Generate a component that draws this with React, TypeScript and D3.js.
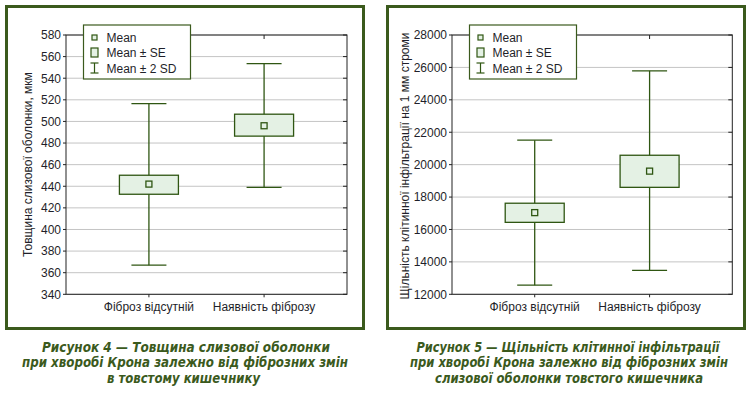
import React from 'react';
import * as d3 from 'd3';

// Категорії (спільні для обох рисунків)
const categories = ['Фіброз відсутній', 'Наявність фіброзу'];

// Рисунок 4 — товщина слизової оболонки, мкм
const thicknessMean = [442, 496];
const thicknessSeLow = [432.6, 486.4];
const thicknessSeHigh = [450.2, 506.7];
const thicknessSdLow = [367, 439];
const thicknessSdHigh = [516.5, 553.5];
const thicknessTicks = [340, 360, 380, 400, 420, 440, 460, 480, 500, 520, 540, 560, 580];

// Рисунок 5 — щільність клітинної інфільтрації
const densityMean = [17040, 19600];
const densitySeLow = [16440, 18600];
const densitySeHigh = [17620, 20580];
const densitySdLow = [12560, 13480];
const densitySdHigh = [21510, 25790];
const densityTicks = [12000, 14000, 16000, 18000, 20000, 22000, 24000, 26000, 28000];

const legendLabels = ['Mean', 'Mean ± SE', 'Mean ± 2 SD'];

const GREEN = '#3b5a1d';
const BOX_STROKE = '#2f5612';
const BOX_FILL = '#e4f1e4';
const TEXT = '#1f1f2a';
const GRID = '#c4c4c4';
const FONT = '"Liberation Sans", Arial, sans-serif';
const CAPTION_FONT = '"Liberation Sans Narrow", "DejaVu Sans Condensed", "Liberation Sans", sans-serif';

interface PanelProps {
  left: number;
  plotLeft: number;
  plotRight: number;
  ticks: number[];
  mean: number[];
  seLow: number[];
  seHigh: number[];
  sdLow: number[];
  sdHigh: number[];
  yTitle: string;
  titleX: number;
  titleY: number;
  caption: { text: string; x: number; width: number }[];
}

const Panel: React.FC<PanelProps> = (p) => {
  const top = 35;
  const bottom = 294.3;

  const x = d3.scalePoint<string>()
    .domain(categories)
    .range([p.plotLeft, p.plotRight])
    .padding(0.72);

  const y = d3.scaleLinear()
    .domain([p.ticks[0], p.ticks[p.ticks.length - 1]])
    .range([bottom, top]);

  const boxW = 59;
  const capW = 35;
  const legX = p.plotLeft + 17.5;
  const legY = 25;

  return (
    <g>
      {/* рамка */}
      <rect x={p.left + 1.5} y={6.5} width={357} height={322}
        fill="none" stroke={GREEN} strokeWidth={3} />

      {/* сітка */}
      {p.ticks.map(t => (
        <line key={'g' + t} x1={p.plotLeft} x2={p.plotRight} y1={y(t)} y2={y(t)}
          stroke={GRID} strokeWidth={1} />
      ))}

      {/* вісь Y: мітки зліва назовні, справа всередину */}
      {p.ticks.map(t => (
        <g key={'t' + t}>
          <line x1={p.plotLeft - 3} x2={p.plotLeft} y1={y(t)} y2={y(t)} stroke="#222" />
          <line x1={p.plotRight - 4} x2={p.plotRight} y1={y(t)} y2={y(t)} stroke="#222" />
          <text x={p.plotLeft - 5} y={y(t)} dy="0.36em" textAnchor="end"
            fontSize={12} fill={TEXT} fontFamily={FONT}>{t}</text>
        </g>
      ))}

      {/* категорії */}
      {categories.map(c => (
        <g key={'c' + c}>
          <line x1={x(c)} x2={x(c)} y1={bottom} y2={bottom + 3} stroke="#222" />
          <line x1={x(c)} x2={x(c)} y1={top} y2={top + 4} stroke="#222" />
          <text x={x(c)} y={bottom + 16.5} textAnchor="middle" fontSize={12}
            fill={TEXT} fontFamily={FONT}>{c}</text>
        </g>
      ))}

      <rect x={p.plotLeft} y={top} width={p.plotRight - p.plotLeft} height={bottom - top}
        fill="none" stroke="#222" strokeWidth={1} />

      {/* боксплоти */}
      {categories.map((c, i) => {
        const cx = x(c) as number;
        return (
          <g key={'b' + c} stroke={BOX_STROKE} strokeWidth={1.3}>
            <line x1={cx} x2={cx} y1={y(p.sdHigh[i])} y2={y(p.sdLow[i])} />
            <line x1={cx - capW / 2} x2={cx + capW / 2} y1={y(p.sdHigh[i])} y2={y(p.sdHigh[i])} />
            <line x1={cx - capW / 2} x2={cx + capW / 2} y1={y(p.sdLow[i])} y2={y(p.sdLow[i])} />
            <rect x={cx - boxW / 2} y={y(p.seHigh[i])} width={boxW}
              height={y(p.seLow[i]) - y(p.seHigh[i])} fill={BOX_FILL} />
            <rect x={cx - 3} y={y(p.mean[i]) - 3} width={6} height={6} fill={BOX_FILL} />
          </g>
        );
      })}

      {/* легенда */}
      <rect x={legX} y={legY} width={107} height={54} fill="#fff" stroke={GREEN} strokeWidth={1.2} />
      <rect x={legX + 8.5} y={legY + 10} width={5} height={5} fill={BOX_FILL} stroke={BOX_STROKE} strokeWidth={1.2} />
      <rect x={legX + 7.5} y={legY + 23} width={7} height={9} fill={BOX_FILL} stroke={BOX_STROKE} strokeWidth={1.2} />
      <g stroke={BOX_STROKE} strokeWidth={1.2}>
        <line x1={legX + 11} x2={legX + 11} y1={legY + 38} y2={legY + 48} />
        <line x1={legX + 7} x2={legX + 15} y1={legY + 38} y2={legY + 38} />
        <line x1={legX + 7} x2={legX + 15} y1={legY + 48} y2={legY + 48} />
      </g>
      {legendLabels.map((l, i) => (
        <text key={l} x={legX + 23} y={legY + 12.5 + i * 15.5} dy="0.36em"
          fontSize={12} fill={TEXT} fontFamily={FONT}>{l}</text>
      ))}

      {/* назва осі Y */}
      <text transform={`translate(${p.titleX},${p.titleY}) rotate(-90)`} textAnchor="middle"
        dy="0.36em" fontSize={12} fill={TEXT} fontFamily={FONT}>{p.yTitle}</text>

      {/* підпис рисунка */}
      {p.caption.map((c, i) => (
        <text key={i} x={c.x} y={351.5 + i * 15.5} textAnchor="middle" fontSize={13.5}
          fontWeight="bold" fontStyle="italic" fill={GREEN} fontFamily={CAPTION_FONT}
          textLength={c.width} lengthAdjust="spacingAndGlyphs">{c.text}</text>
      ))}
    </g>
  );
};

export default function App() {
  return (
    <div style={{ position: 'absolute', left: 0, top: 0 }}>
      <svg width={751} height={395} style={{ display: 'block', background: '#fff' }}>
        <Panel
          left={5}
          plotLeft={66}
          plotRight={347}
          ticks={thicknessTicks}
          mean={thicknessMean}
          seLow={thicknessSeLow}
          seHigh={thicknessSeHigh}
          sdLow={thicknessSdLow}
          sdHigh={thicknessSdHigh}
          yTitle="Товщина слизової оболонки, мкм"
          titleX={28}
          titleY={164.5}
          caption={[
            { text: 'Рисунок 4 — Товщина слизової оболонки', x: 186, width: 288 },
            { text: 'при хворобі Крона залежно від фіброзних змін', x: 185, width: 326 },
            { text: 'в товстому кишечнику', x: 183.5, width: 153 },
          ]}
        />
        <Panel
          left={386}
          plotLeft={452}
          plotRight={732.3}
          ticks={densityTicks}
          mean={densityMean}
          seLow={densitySeLow}
          seHigh={densitySeHigh}
          sdLow={densitySdLow}
          sdHigh={densitySdHigh}
          yTitle="Щільність клітинної інфільтрації на 1 мм строми"
          titleX={405}
          titleY={166}
          caption={[
            { text: 'Рисунок 5 — Щільність клітинної інфільтрації', x: 568, width: 303 },
            { text: 'при хворобі Крона залежно від фіброзних змін', x: 569, width: 318 },
            { text: 'слизової оболонки товстого кишечника', x: 569, width: 268 },
          ]}
        />
      </svg>
    </div>
  );
}
